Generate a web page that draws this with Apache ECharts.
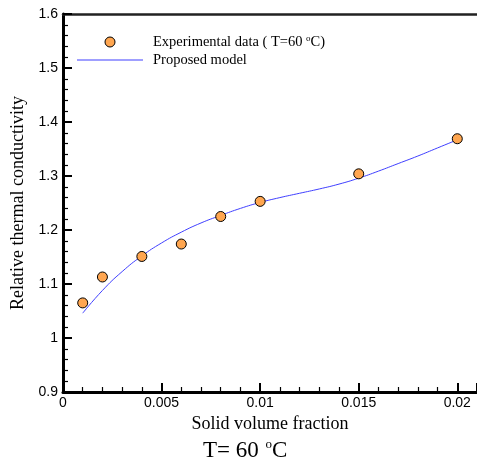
<!DOCTYPE html>
<html><head><meta charset="utf-8">
<script src="https://cdn.jsdelivr.net/npm/echarts@6/dist/echarts.min.js"></script>
<style>html,body{margin:0;padding:0;background:#fff}#c{width:477px;height:464px}</style>
</head><body><div id="c"></div>
<script>
// Experimental data (T = 60 °C)
const expX = [0.001, 0.002, 0.004, 0.006, 0.008, 0.010, 0.015, 0.020];
const expY = [1.065, 1.113, 1.151, 1.174, 1.225, 1.253, 1.304, 1.369];
// Proposed model curve
const modelX = [0.001, 0.002, 0.003, 0.004, 0.005, 0.006, 0.007, 0.008, 0.009, 0.010,
                0.011, 0.012, 0.013, 0.014, 0.015, 0.016, 0.017, 0.018, 0.019, 0.020];
const modelY = [1.046, 1.088, 1.123, 1.152, 1.176, 1.196, 1.213, 1.227, 1.240, 1.251,
                1.260, 1.268, 1.276, 1.285, 1.296, 1.309, 1.323, 1.337, 1.352, 1.367];
const seriesNames = ['Experimental data ( T=60 {s|o}C)', 'Proposed model'];
const xAxisName = 'Solid volume fraction';
const yAxisName = 'Relative thermal conductivity';
const captionText = '{a|T= 60 }{s|o}{a|C}';

const serif = 'Liberation Serif';
const sans = 'Liberation Sans';
const lineColor = '#4040FF';

const chart = echarts.init(document.getElementById('c'), null, {renderer: 'canvas'});
chart.setOption({
  animation: false,
  backgroundColor: '#fff',
  title: {
    text: captionText,
    left: 203, top: 436,
    padding: 0,
    textStyle: {
      fontWeight: 'normal',
      rich: {
        a: {fontFamily: serif, fontSize: 23, fontWeight: 'normal', color: '#000', lineHeight: 26, verticalAlign: 'bottom'},
        s: {fontFamily: serif, fontSize: 13, fontWeight: 'normal', color: '#000', lineHeight: 14, verticalAlign: 'top', padding: [2, 0, 0, 1]}
      }
    }
  },
  legend: {
    orient: 'vertical',
    left: 77, top: 34,
    padding: 0,
    itemWidth: 66, itemHeight: 10, itemGap: 2,
    data: [
      {name: seriesNames[0], icon: 'circle', itemStyle: {color: '#FFA650', borderColor: '#000', borderWidth: 1}},
      {name: seriesNames[1], icon: 'path://M0 0H66V1H0Z', itemStyle: {color: lineColor, borderWidth: 0}}
    ],
    textStyle: {
      fontFamily: serif, fontSize: 14.5, color: '#000', lineHeight: 16, padding: [0, 0, 0, 5],
      rich: {
        s: {fontFamily: serif, fontSize: 9, color: '#000', verticalAlign: 'top', lineHeight: 10}
      }
    }
  },
  grid: {left: 63, top: 14, width: 416, height: 378, containLabel: false},
  xAxis: [{
    type: 'value', min: 0, max: 0.021, interval: 0.005, position: 'bottom',
    name: xAxisName, nameLocation: 'middle', nameGap: 23,
    nameTextStyle: {fontFamily: serif, fontSize: 18, color: '#000'},
    axisLine: {show: true, onZero: false, lineStyle: {color: '#000', width: 3}},
    axisTick: {show: true, inside: true, length: 9, lineStyle: {color: '#000', width: 2}},
    minorTick: {show: true, splitNumber: 5, length: 5, lineStyle: {color: '#000', width: 1.2}},
    axisLabel: {color: '#000', fontFamily: sans, fontSize: 14, margin: 4, showMaxLabel: false},
    splitLine: {show: false}, minorSplitLine: {show: false}
  }, {
    type: 'value', min: 0, max: 0.021, position: 'top',
    axisLine: {show: true, onZero: false, lineStyle: {color: '#222', width: 2.5}},
    axisTick: {show: false}, axisLabel: {show: false}, splitLine: {show: false}
  }],
  yAxis: {
    type: 'value', min: 0.9, max: 1.6, interval: 0.1,
    name: yAxisName, nameLocation: 'middle', nameGap: 34,
    nameTextStyle: {fontFamily: serif, fontSize: 18, color: '#000'},
    axisLine: {show: true, onZero: false, lineStyle: {color: '#000', width: 3}},
    axisTick: {show: true, inside: true, length: 9, lineStyle: {color: '#000', width: 2}},
    minorTick: {show: true, splitNumber: 5, length: 5, lineStyle: {color: '#000', width: 1.2}},
    axisLabel: {color: '#000', fontFamily: sans, fontSize: 14, margin: 5},
    splitLine: {show: false}
  },
  series: [{
    name: seriesNames[0],
    type: 'scatter', xAxisIndex: 0, z: 4,
    symbol: 'circle', symbolSize: 10,
    itemStyle: {color: '#FFA650', borderColor: '#000', borderWidth: 1, opacity: 1},
    data: expX.map((x, i) => [x, expY[i]])
  }, {
    name: seriesNames[1],
    type: 'line', xAxisIndex: 0, z: 3,
    smooth: 0.5, showSymbol: false, symbol: 'none',
    lineStyle: {color: lineColor, width: 1},
    itemStyle: {color: lineColor},
    data: modelX.map((x, i) => [x, modelY[i]])
  }]
});
</script></body></html>
